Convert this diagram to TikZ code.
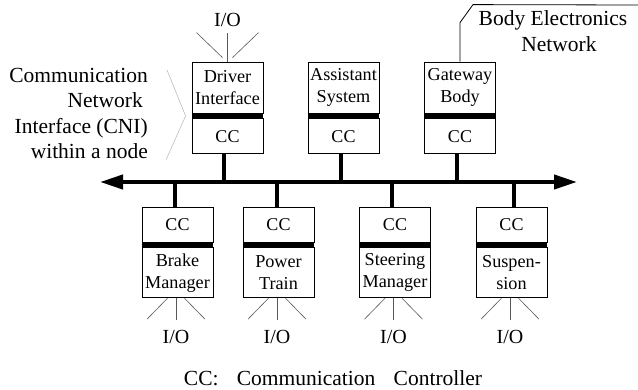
\documentclass[tikz,border=0pt]{standalone}
\usepackage{fontspec}
\setmainfont{Liberation Serif}
\usetikzlibrary{positioning,arrows.meta}

\tikzset{
  unit/.style={draw, line width=0.8pt, minimum width=71pt, minimum height=51pt, inner sep=0pt, align=center, font=\fontsize{18.2}{22}\selectfont},
  ctrl/.style={draw, line width=0.8pt, minimum width=71pt, minimum height=35pt, inner sep=0pt, font=\fontsize{18}{22}\selectfont},
  cnibar/.style={fill=black, minimum width=71.8pt, minimum height=5pt, inner sep=0pt, outer sep=0pt},
  stub/.style={line width=4pt},
  fan/.style={draw=black!65, line width=0.6pt},
  io/.style={font=\fontsize{20}{24}\selectfont, inner sep=0pt},
  label/.style={font=\fontsize{21.5}{25.5}\selectfont, inner sep=0pt}
}

\begin{document}
\begin{tikzpicture}[x=1pt,y=1pt]
        \useasboundingbox (0,182) rectangle (638,-207);

            % bus
            \coordinate (bus-l) at (100,0);
            \coordinate (bus-r) at (577,0);

            % upper nodes
            \node[unit] (drv) at (227.5,94.5) {Driver\\Interface};
            \node[cnibar, below=0pt of drv] (drv-bar) {};
            \node[ctrl, below=0pt of drv-bar] (drv-cc) {CC};

            \node[unit] (ass) at (343.5,94.5) {Assistant\\System};
            \node[cnibar, below=0pt of ass] (ass-bar) {};
            \node[ctrl, below=0pt of ass-bar] (ass-cc) {CC};

            \node[unit] (gw) at (460,94.5) {Gateway\\Body};
            \node[cnibar, below=0pt of gw] (gw-bar) {};
            \node[ctrl, below=0pt of gw-bar] (gw-cc) {CC};

            % lower nodes
            \node[ctrl] (brk-cc) at (177.5,-42.5) {CC};
            \node[cnibar, below=0pt of brk-cc] (brk-bar) {};
            \node[unit, minimum height=50pt, below=0pt of brk-bar] (brk) {Brake\\Manager};

            \node[ctrl] (pwr-cc) at (278.5,-42.5) {CC};
            \node[cnibar, below=0pt of pwr-cc] (pwr-bar) {};
            \node[unit, minimum height=50pt, below=0pt of pwr-bar] (pwr) {Power\\Train};

            \node[ctrl] (str-cc) at (395,-42.5) {CC};
            \node[cnibar, below=0pt of str-cc] (str-bar) {};
            \node[unit, minimum height=50pt, below=0pt of str-bar] (str) {Steering\\Manager};

            \node[ctrl] (sus-cc) at (511.5,-42.5) {CC};
            \node[cnibar, below=0pt of sus-cc] (sus-bar) {};
            \node[unit, minimum height=50pt, below=0pt of sus-bar] (sus) {Suspen-\\sion};

            % bus and stubs
            \draw[stub, {Triangle[length=23pt,width=14pt]}-{Triangle[length=23pt,width=14pt]}] (bus-l) -- (bus-r);
            \draw[stub] ([xshift=-4pt]drv-cc.south) -- ([xshift=-4pt]drv-cc.south |- bus-l);
            \draw[stub] ([xshift=-3pt]ass-cc.south) -- ([xshift=-3pt]ass-cc.south |- bus-l);
            \draw[stub] ([xshift=-3pt]gw-cc.south) -- ([xshift=-3pt]gw-cc.south |- bus-l);
            \draw[stub] ([xshift=-3pt]brk-cc.north) -- ([xshift=-3pt]brk-cc.north |- bus-l);
            \draw[stub] ([xshift=-2pt]pwr-cc.north) -- ([xshift=-2pt]pwr-cc.north |- bus-l);
            \draw[stub] ([xshift=-3pt]str-cc.north) -- ([xshift=-3pt]str-cc.north |- bus-l);
            \draw[stub] ([xshift=2pt]sus-cc.north) -- ([xshift=2pt]sus-cc.north |- bus-l);

            % I/O of the driver interface
            \coordinate (drv-fan) at ([yshift=29pt]drv.north);
            \draw[fan] (drv.north) -- (drv-fan);
            \draw[fan] ([xshift=-5pt,yshift=4pt]drv.north) -- ([xshift=-31pt]drv-fan);
            \draw[fan] ([xshift=5pt,yshift=4pt]drv.north) -- ([xshift=31pt]drv-fan);
            \node[io] (drv-io) at ([yshift=13pt]drv-fan) {I/O};

            % I/O of the lower nodes
            \coordinate (brk-fan) at ([xshift=-1.5pt,yshift=-22pt]brk.south);
            \draw[fan] ([xshift=-1.5pt]brk.south) -- (brk-fan);
            \draw[fan] ([xshift=-10pt]brk.south) -- ([xshift=-29pt,yshift=1pt]brk-fan);
            \draw[fan] ([xshift=7pt]brk.south) -- ([xshift=29pt,yshift=1pt]brk-fan);
            \node[io] (brk-io) at ([yshift=-17pt]brk-fan) {I/O};

            \coordinate (pwr-fan) at ([xshift=-1.5pt,yshift=-22pt]pwr.south);
            \draw[fan] ([xshift=-1.5pt]pwr.south) -- (pwr-fan);
            \draw[fan] ([xshift=-10pt]pwr.south) -- ([xshift=-29pt,yshift=1pt]pwr-fan);
            \draw[fan] ([xshift=7pt]pwr.south) -- ([xshift=29pt,yshift=1pt]pwr-fan);
            \node[io] (pwr-io) at ([yshift=-17pt]pwr-fan) {I/O};

            \coordinate (str-fan) at ([xshift=-1.5pt,yshift=-22pt]str.south);
            \draw[fan] ([xshift=-1.5pt]str.south) -- (str-fan);
            \draw[fan] ([xshift=-10pt]str.south) -- ([xshift=-29pt,yshift=1pt]str-fan);
            \draw[fan] ([xshift=7pt]str.south) -- ([xshift=29pt,yshift=1pt]str-fan);
            \node[io] (str-io) at ([yshift=-17pt]str-fan) {I/O};

            \coordinate (sus-fan) at ([xshift=-1.5pt,yshift=-22pt]sus.south);
            \draw[fan] ([xshift=-1.5pt]sus.south) -- (sus-fan);
            \draw[fan] ([xshift=-10pt]sus.south) -- ([xshift=-29pt,yshift=1pt]sus-fan);
            \draw[fan] ([xshift=7pt]sus.south) -- ([xshift=29pt,yshift=1pt]sus-fan);
            \node[io] (sus-io) at ([yshift=-17pt]sus-fan) {I/O};

            % CNI annotation
            \node[label, align=right, anchor=east] (cni) at (148,68.5) {Communication\\Network\kern5pt\\Interface (CNI)\\within a node};
            \draw[black!30, line width=0.5pt] (167,112) -- ([xshift=-6pt]drv-bar.west) -- (166,22);

            % body network
            \coordinate (body-end) at (638,177);
            \draw[line width=0.8pt] (gw.north) -- ++(0,39) -- ++(13,18) -- (body-end);
            \node[label, align=center] (body) at (553,151) {Body Electronics\\\hspace*{12pt}Network};

            % legend
            \node[label] (legend) at (333,-196) {CC:\hspace{0.85em}Communication\hspace{0.85em}Controller};

\end{tikzpicture}
\end{document}
